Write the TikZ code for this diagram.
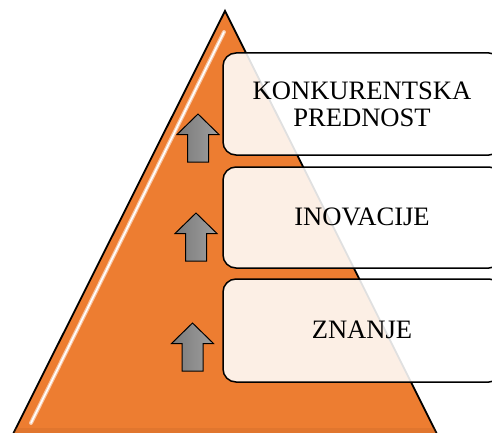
\documentclass[tikz,border=0pt]{standalone}
\usepackage{fontspec}
\setmainfont{Liberation Serif}
\usetikzlibrary{calc}
\definecolor{pyrorange}{RGB}{237,125,49}
\tikzset{
  levelbox/.style={draw=black, line width=1.5pt, rounded corners=13pt, fill=white, fill opacity=0.88, text opacity=1},
  leveltext/.style={font=\fontsize{26.6}{27}\selectfont, align=center, anchor=base, text=black},
  uparrowshape/.style={draw=black, line width=1pt, left color=gray!95!black, right color=gray!75!white},
}
\begin{document}
\begin{tikzpicture}[x=1pt,y=-1pt]
\useasboundingbox (0,0) rectangle (492,433);
\begin{scope}
\clip (0,0) rectangle (492,433);
% pyramid
\coordinate (apex) at (225,11);
\coordinate (bl) at (8,444);
\coordinate (br) at (442,444);
\draw[line width=1.8pt, fill=pyrorange, line join=miter] (apex) -- (bl) -- (br) -- cycle;
% bevel highlight and bottom shade, kept inside the pyramid
\begin{scope}
\clip (apex) -- (bl) -- (br) -- cycle;
\coordinate (h1) at (224,32);
\coordinate (h2) at (31,423);
\draw[white!70!pyrorange, line width=4pt, line cap=round, opacity=0.8] (h1) -- (h2);
\draw[white, line width=1.6pt, line cap=round] (h1) -- (h2);
\fill[pyrorange!80!black, opacity=0.25] (0,428) rectangle (492,433);
\end{scope}
% arrows
\foreach \cx/\ty in {198/114, 196/213, 192.5/323}{
  \draw[uparrowshape] (\cx,\ty) -- ++(21,20.5) -- ++(-10.5,0) -- ++(0,27.5) -- ++(-21,0) -- ++(0,-27.5) -- ++(-10.5,0) -- cycle;
}
% level boxes
\draw[levelbox] (223,53) rectangle (502,155);
\draw[levelbox] (223,167) rectangle (502,268);
\draw[levelbox] (223,279) rectangle (502,382);
\end{scope}
\node[leveltext] (konk) at (362,127) {KONKURENTSKA\\PREDNOST};
\node[leveltext] (inov) at (362,225) {INOVACIJE};
\node[leveltext] (znanje) at (362,338) {ZNANJE};
\end{tikzpicture}
\end{document}
